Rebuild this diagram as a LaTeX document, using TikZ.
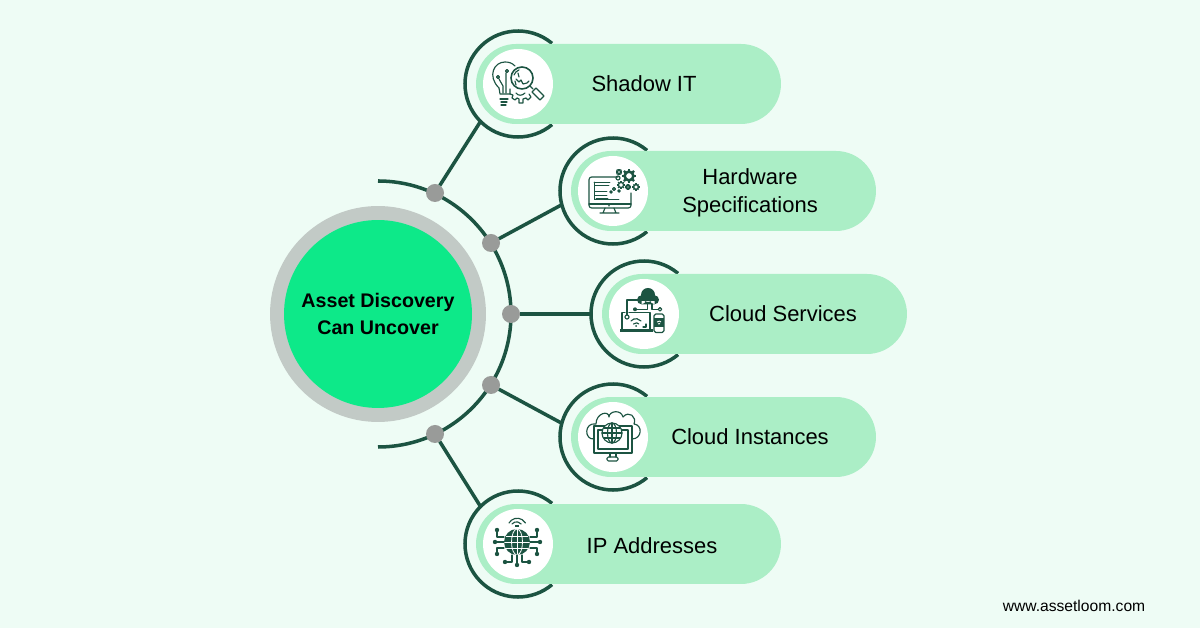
\documentclass[tikz,border=0pt]{standalone}
\usepackage{fontspec}
\setmainfont{Liberation Sans}
\usetikzlibrary{calc}
\usetikzlibrary{shapes.misc}

\definecolor{bgmint}{RGB}{238,252,245}
\definecolor{pillgreen}{RGB}{171,238,198}
\definecolor{hubgreen}{RGB}{13,233,137}
\definecolor{hubgray}{RGB}{194,202,198}
\definecolor{dotgray}{RGB}{153,155,153}
\definecolor{darkgreen}{RGB}{28,84,66}

\tikzset{
	hubouter/.style={circle,fill=hubgray,minimum size=4.32cm,inner sep=0,outer sep=0},
	hubinner/.style={circle,fill=hubgreen,minimum size=3.76cm,inner sep=0,outer sep=0,align=center,font=\fontsize{11.2}{15.8}\selectfont\bfseries},
	ringnode/.style={circle,minimum size=2.12cm,inner sep=0,outer sep=0},
	ringline/.style={draw=darkgreen,line width=2pt},
	pillnode/.style={rounded rectangle,fill=pillgreen,minimum width=6.1cm,minimum height=1.6cm,inner sep=0,outer sep=0},
	whitenode/.style={circle,fill=white,minimum size=1.4cm,inner sep=0,outer sep=0},
	dotnode/.style={circle,fill=dotgray,minimum size=.36cm,inner sep=0,outer sep=0},
	labelnode/.style={align=center,font=\fontsize{12.5}{15.9}\selectfont},
	iconline/.style={draw=darkgreen,line width=.65pt,line cap=round,line join=round},
	iconthin/.style={draw=darkgreen,line width=.4pt,line cap=round}
}

% small cog: x, y, radius
\newcommand{\cogat}[3]{
	\draw[iconline] (#1,#2) circle[radius=#3*.62];
	\foreach \a in {0,45,...,315}
		\draw[darkgreen,line width=.9pt] ($(#1,#2)+(\a:#3*.62)$) -- ($(#1,#2)+(\a:#3)$);
}

\begin{document}
\begin{tikzpicture}[x=.02cm,y=.02cm]

	\fill[bgmint] (0,0) rectangle (1200,628);

	% centre
	\node[hubouter] (hubring) at (378,314) {};
	\node[hubinner] (hub) at (378,314) {Asset Discovery\\Can Uncover};
	\coordinate (arcstart) at (378,447);
	\draw[ringline] (arcstart) arc[start angle=90,end angle=-90,radius=133];

	% rings, left open where the pills start
	\node[ringnode] (shadowring) at (518,544) {};
	\node[ringnode] (hardwarering) at (613,437) {};
	\node[ringnode] (servicesring) at (644,314) {};
	\node[ringnode] (instancesring) at (613,191) {};
	\node[ringnode] (addressring) at (518,84) {};
	\draw[ringline] (shadowring.50) arc[start angle=50,end angle=310,radius=53];
	\draw[ringline] (hardwarering.50) arc[start angle=50,end angle=310,radius=53];
	\draw[ringline] (servicesring.50) arc[start angle=50,end angle=310,radius=53];
	\draw[ringline] (instancesring.50) arc[start angle=50,end angle=310,radius=53];
	\draw[ringline] (addressring.50) arc[start angle=50,end angle=310,radius=53];

	\node[dotnode] (dota) at (435,435) {};
	\node[dotnode] (dotb) at (491,385) {};
	\node[dotnode] (dotc) at (511,314) {};
	\node[dotnode] (dotd) at (491,243) {};
	\node[dotnode] (dote) at (435,194) {};
	\draw[ringline] (dota) -- (shadowring.225);
	\draw[ringline] (dotb) -- (hardwarering.195);
	\draw[ringline] (dotc) -- (servicesring.180);
	\draw[ringline] (dotd) -- (instancesring.165);
	\draw[ringline] (dote) -- (addressring.135);

	% pills
	\node[pillnode] (shadowpill) at (628.5,544) {};
	\node[pillnode] (hardwarepill) at (723.5,437) {};
	\node[pillnode] (servicespill) at (754.5,314) {};
	\node[pillnode] (instancespill) at (723.5,191) {};
	\node[pillnode] (addresspill) at (628.5,84) {};

	\node[whitenode] (shadowicon) at (518,544) {};
	\node[whitenode] (hardwareicon) at (613,437) {};
	\node[whitenode] (servicesicon) at (644,314) {};
	\node[whitenode] (instancesicon) at (613,191) {};
	\node[whitenode] (addressicon) at (518,84) {};

	\node[labelnode] at (644,544) {Shadow IT};
	\node[labelnode] at (750,435.5) {Hardware\\Specifications};
	\node[labelnode] at (783,314) {Cloud Services};
	\node[labelnode] at (750,191) {Cloud Instances};
	\node[labelnode] at (652,82) {IP Addresses};
	\node[font=\fontsize{8.9}{11}\selectfont] at (1074,22.5) {www.assetloom.com};

	% bulb and magnifier
	\begin{scope}[shift={(518,544)}]
		\draw[iconline] (-19,-4) .. controls (-31,8) and (-24,22) .. (-13,22) .. controls (-9,22) and (-6,21) .. (-3,18);
		\draw[iconline] (-19,-4) -- (-18,-10) -- (-8,-10);
		\draw[iconline] (-18,-15) -- (-10,-15) (-17,-18) -- (-11,-18) (-17,-21) -- (-12,-21);
		\draw[iconline] (-20,7) circle[radius=1.5] (-19,5) -- (-15,-2) -- (-15,-9);
		\draw[iconline] (-11,13) circle[radius=1.5] (-12,11) -- (-12,-9);
		\draw[line width=.9pt,darkgreen] (4,6) circle[radius=11];
		\draw[iconline] (-4,9) arc[start angle=160,end angle=110,radius=8.5];
		\draw[iconline] (-2,5) -- (1,2) -- (3,4) -- (5,0) -- (9,1) -- (11,3) (-2,-1) -- (-3,3) (0,11) -- (1,7);
		\draw[iconline] (12,-2) -- (15,-5);
		\draw[iconline] (14,-8) -- (18,-4) -- (26,-12) -- (22,-16) -- cycle;
		% half cog under the lens
		\draw[iconline] (-8,-5) -- (-8,-10) -- (-5,-11) -- (-6,-14) -- (-3,-16) -- (-1,-14) -- (1,-15) -- (1,-19) -- (5,-19) -- (5,-15) -- (8,-14) -- (10,-16) -- (13,-13) -- (11,-10);
		\draw[iconline] (-2,-9) .. controls (0,-12) and (4,-12) .. (7,-9);
	\end{scope}

	% monitor and cogs
	\begin{scope}[shift={(613,437)}]
		\draw[iconline,rounded corners=1.5] (5,14) -- (-24,14) -- (-24,-17) -- (18,-17) -- (18,-2);
		\draw[iconline] (-24,-13) -- (18,-13);
		\draw[iconthin] (-19,9) -- (-3,9) (-19,9) -- (-19,-8) -- (6,-8);
		\draw[iconthin] (-18,0) -- (-6,0) (-18,-4) -- (-6,-4) (-17,-7) -- (-5,-7) (-18,6) -- (-4,6);
		\draw[iconline] (-8,-17) -- (-10,-22) (1,-17) -- (3,-22) (-13,-22) -- (6,-22);
		\fill[darkgreen] (-4,-14.8) circle[radius=.8];
		\draw[darkgreen,line width=1.5pt] (16,15) circle[radius=4.4];
		\foreach \a in {0,45,...,315}
			\draw[darkgreen,line width=1.3pt] ($(16,15)+(\a:5)$) -- ($(16,15)+(\a:7.2)$);
		\cogat{6}{19}{3.2}
		\cogat{8}{6}{4}
		\cogat{15}{4}{2.8}
		\cogat{23}{4}{3.6}
		\draw[iconline] (5,13) circle[radius=2];
		\draw[iconline] (1,2) circle[radius=1.5];
		\draw[iconline] (-2,-1) circle[radius=1.2];
		\draw[iconline] (6,0) circle[radius=1.2];
	\end{scope}

	% cloud over laptop and phone
	\begin{scope}[shift={(644,314)}]
		\fill[darkgreen] (4,19) circle[radius=7] (-2.5,14.2) circle[radius=4.5] (10.5,14.2) circle[radius=4.5] (-2.5,9.7) rectangle (10.5,13);
		\draw[iconline] (-6,14) -- (-17,14) -- (-17,-1);
		\draw[iconline] (-17,-3) circle[radius=2];
		\fill[darkgreen] (-9,4.7) circle[radius=2];
		\draw[iconline] (-9,4.7) -- (3.3,4.7) -- (3.3,10) (8,10) -- (8,4.7) -- (14,4.7);
		\draw[iconline] (16,4.7) circle[radius=1.8];
		\draw[iconline] (-15,1.3) -- (6,1.3) -- (6,-15) (-22,1.3) -- (-19,1.3) (-22,1.3) -- (-22,-15);
		\fill[darkgreen] (-24,-15) rectangle (9,-18.5);
		\draw[iconline] (-13,-7) arc[start angle=140,end angle=40,radius=6.5];
		\draw[iconline] (-10.5,-10) arc[start angle=140,end angle=40,radius=3.4];
		\fill[darkgreen] (-8,-12) circle[radius=1];
		\draw[iconline] (2,-10) -- (2,-13) -- (-1,-13);
		\draw[iconline,rounded corners=1] (10,-18.5) rectangle (20,0);
		\fill[darkgreen] (10,-13) rectangle (20,-4);
		\draw[white,line width=.5pt] (13,-8) arc[start angle=140,end angle=40,radius=2.6];
		\draw[white,line width=.5pt] (14,-10) arc[start angle=140,end angle=40,radius=1.3];
	\end{scope}

	% cloud with monitor and globe
	\begin{scope}[shift={(613,191)}]
		\draw[iconline] (-19,-2) .. controls (-29,-3) and (-29,15) .. (-17,13) .. controls (-17,24) and (-4,27) .. (-4,20) .. controls (-4,26) and (8,28) .. (10,20) .. controls (16,27) and (24,20) .. (21,13) .. controls (30,12) and (29,-2) .. (19,-2);
		\draw[iconline] (-19,11) rectangle (19,-16);
		\draw[iconline] (-15,7) rectangle (15,-12);
		\fill[white] (-1,4) circle[radius=10];
		\draw[iconline] (-1,4) circle[radius=10];
		\draw[iconline] (-1,4) ellipse[x radius=4.5,y radius=10];
		\draw[iconline] (-11,4) -- (9,4) (-9,9) -- (7,9) (-9,-1) -- (7,-1) (-1,14) -- (-1,-6);
		\draw[iconline] (-3,-16) -- (-3,-20) (3,-16) -- (3,-20);
		\draw[iconline,rounded corners=.8] (-6,-20) rectangle (5,-24);
	\end{scope}

	% globe with wifi and links
	\begin{scope}[shift={(518,84)}]
		\fill[darkgreen] (-1,2) circle[radius=13];
		\draw[white,line width=.45pt] (-1,2) ellipse[x radius=5.5,y radius=13];
		\draw[white,line width=.45pt] (-14,2) -- (12,2) (-12,8) -- (10,8) (-12,-4) -- (10,-4) (-1,15) -- (-1,-11);
		\draw[iconline] (-9,21) arc[start angle=150,end angle=30,radius=9.5];
		\draw[iconline] (-6,20) arc[start angle=140,end angle=40,radius=6];
		\draw[darkgreen,line width=.9pt] (-3,18) -- (1,18);
		\draw[iconline] (-21,14) -- (-21,7) -- (-14,7);
		\draw[iconline] (-23,2) -- (-14,2);
		\draw[iconline] (-21,-10) -- (-21,-4) -- (-14,-4);
		\draw[iconline] (19,14) -- (19,7) -- (12,7);
		\draw[iconline] (22,2) -- (12,2);
		\draw[iconline] (19,-10) -- (19,-4) -- (12,-4);
		\draw[iconline] (-1,-21) -- (-1,-11);
		\draw[iconline] (-13,-18) -- (-6,-18) -- (-6,-11);
		\draw[iconline] (11,-18) -- (4,-18) -- (4,-11);
		\foreach \px/\py in {-21/14,-23/2,-21/-10,19/14,22/2,19/-10,-1/-21,-13/-18,11/-18}
			\fill[darkgreen] (\px,\py) circle[radius=2.2];
	\end{scope}

\end{tikzpicture}
\end{document}
